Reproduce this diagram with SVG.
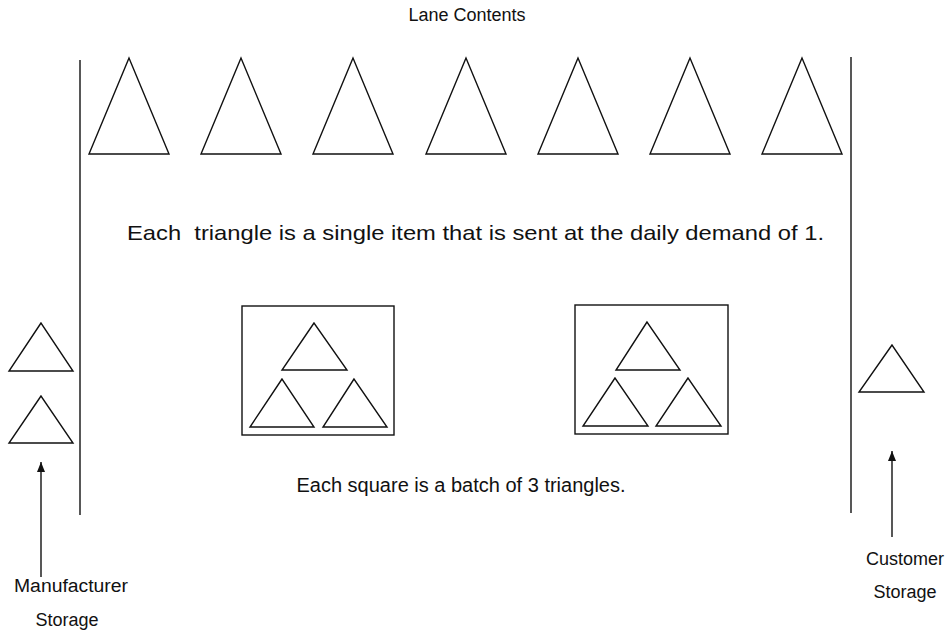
<svg xmlns="http://www.w3.org/2000/svg" width="948" height="633" viewBox="0 0 948 633">
<style>
.s{fill:none;stroke:#111;stroke-width:1.4;stroke-linejoin:miter}
.t{font-family:"Liberation Sans",Arial,sans-serif;fill:#111}
</style>
<defs>
<marker id="ah" markerWidth="10" markerHeight="8" refX="10" refY="4" orient="auto" markerUnits="userSpaceOnUse" viewBox="0 0 10 8">
<path d="M0,0 L10,4 L0,8 Z" fill="#111"/>
</marker>
</defs>
<rect width="948" height="633" fill="#fff"/>
<text class="t" x="467" y="21" font-size="18" text-anchor="middle">Lane Contents</text>
<g id="lane-walls">
<line class="s" x1="80" y1="60" x2="80" y2="515"/>
<line class="s" x1="851" y1="57" x2="851" y2="513"/>
</g>
<g id="lane-items">
<polygon class="s" points="129,58 89,154 169,154"/>
<polygon class="s" points="241,58 201,154 281,154"/>
<polygon class="s" points="353,58 313,154 393,154"/>
<polygon class="s" points="466,58 426,154 506,154"/>
<polygon class="s" points="578,58 538,154 618,154"/>
<polygon class="s" points="690,58 650,154 730,154"/>
<polygon class="s" points="802,58 762,154 842,154"/>
</g>
<text class="t" x="127" y="240" font-size="21" textLength="697" lengthAdjust="spacingAndGlyphs" xml:space="preserve">Each  triangle is a single item that is sent at the daily demand of 1.</text>
<g id="batch-1">
<rect class="s" x="242" y="306" width="152" height="129"/>
<polygon class="s" points="314,323 282,370 347,370"/>
<polygon class="s" points="282,379 250,427 314,427"/>
<polygon class="s" points="354,379 323,427 387,427"/>
</g>
<g id="batch-2">
<rect class="s" x="575" y="305" width="153" height="129"/>
<polygon class="s" points="647,322 616,370 680,370"/>
<polygon class="s" points="615,378 583,426 648,426"/>
<polygon class="s" points="688,378 656,426 721,426"/>
</g>
<text class="t" x="461" y="492" font-size="20" text-anchor="middle">Each square is a batch of 3 triangles.</text>
<g id="manufacturer-storage">
<polygon class="s" points="41,323 9,371 73,371"/>
<polygon class="s" points="41,396 9,443 73,443"/>
<text class="t" x="71" y="592" font-size="18" text-anchor="middle" textLength="114" lengthAdjust="spacingAndGlyphs">Manufacturer</text>
<text class="t" x="67" y="626" font-size="18" text-anchor="middle">Storage</text>
</g>
<g id="customer-storage">
<polygon class="s" points="892,345 859,392 924,392"/>
<text class="t" x="905" y="565" font-size="18" text-anchor="middle">Customer</text>
<text class="t" x="905" y="598" font-size="18" text-anchor="middle">Storage</text>
</g>
<g id="connectors">
<line class="s" x1="41" y1="577" x2="41" y2="462" marker-end="url(#ah)"/>
<line class="s" x1="892" y1="537" x2="892" y2="451" marker-end="url(#ah)"/>
</g>
</svg>
